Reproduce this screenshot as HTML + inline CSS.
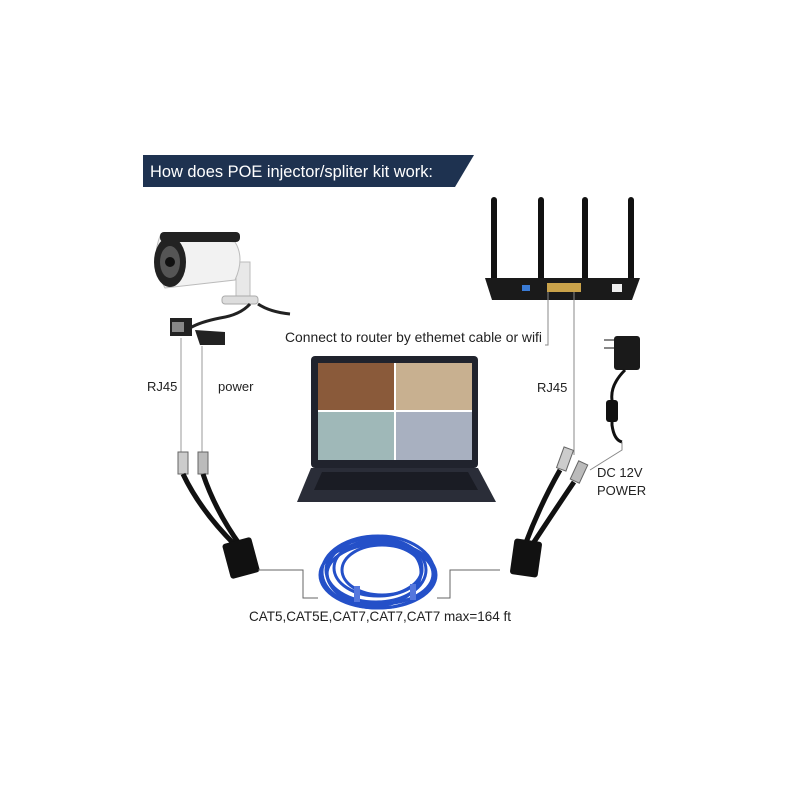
<!DOCTYPE html>
<html><head><meta charset="utf-8"><style>
html,body{margin:0;padding:0;background:#fff;}
svg{display:block}
text{font-family:"Liberation Sans",sans-serif;}
</style></head><body>
<svg width="800" height="800" viewBox="0 0 800 800" xmlns="http://www.w3.org/2000/svg">
<rect width="800" height="800" fill="#fff"/>
<!-- banner -->
<polygon points="143,155 474,155 455,187 143,187" fill="#1e3250"/>
<text x="150" y="177" font-size="16.5" fill="#fff" textLength="283" lengthAdjust="spacingAndGlyphs">How does POE injector/spliter kit work:</text>

<!-- camera -->
<rect x="236" y="262" width="14" height="40" fill="#e8e8e8" stroke="#bbb"/>
<rect x="222" y="296" width="36" height="8" rx="3" fill="#ddd" stroke="#aaa"/>
<path d="M160,236 L235,242 Q245,258 235,280 L165,288 Q150,262 160,236Z" fill="#f2f2f2" stroke="#bbb"/>
<ellipse cx="170" cy="262" rx="16" ry="25" fill="#222"/>
<ellipse cx="170" cy="262" rx="10" ry="16" fill="#555"/>
<circle cx="170" cy="262" r="5" fill="#111"/>
<rect x="160" y="232" width="80" height="10" rx="4" fill="#222"/>
<!-- camera cables -->
<path d="M250,304 Q240,315 220,318 Q200,322 190,328 M258,304 Q270,312 290,314" stroke="#222" stroke-width="3" fill="none"/>
<rect x="170" y="318" width="22" height="18" fill="#222"/>
<rect x="172" y="322" width="12" height="10" fill="#888"/>
<path d="M195,330 L225,332 L225,345 L200,345Z" fill="#222"/>
<!-- left lines -->
<path d="M181,338 V455 M202,346 V455" stroke="#999" stroke-width="1" fill="none"/>
<text x="147" y="391" font-size="13" fill="#222">RJ45</text>
<text x="218" y="391" font-size="13" fill="#222">power</text>
<!-- left splitter -->
<rect x="178" y="452" width="10" height="22" fill="#ccc" stroke="#666"/>
<rect x="198" y="452" width="10" height="22" fill="#bbb" stroke="#666"/>
<path d="M183,474 Q200,510 235,545 M203,474 Q215,510 240,545" stroke="#111" stroke-width="5" fill="none"/>
<rect x="226" y="540" width="30" height="36" rx="3" fill="#111" transform="rotate(-15 241 558)"/>
<path d="M258,570 H303 V598 H318" stroke="#666" stroke-width="1" fill="none"/>

<!-- router -->
<g stroke="#111" stroke-width="6" stroke-linecap="round">
<line x1="494" y1="200" x2="494" y2="282"/>
<line x1="541" y1="200" x2="541" y2="280"/>
<line x1="585" y1="200" x2="585" y2="280"/>
<line x1="631" y1="200" x2="631" y2="282"/>
</g>
<polygon points="485,278 640,278 632,300 492,300" fill="#1a1a1a"/>
<rect x="547" y="283" width="34" height="9" fill="#c9a24a"/>
<rect x="522" y="285" width="8" height="6" fill="#3a7bd5"/>
<rect x="612" y="284" width="10" height="8" fill="#eee"/>
<path d="M548,292 V345 H545 M574,292 V455" stroke="#888" stroke-width="1" fill="none"/>
<text x="285" y="342" font-size="14" fill="#222" textLength="257" lengthAdjust="spacingAndGlyphs">Connect to router by ethemet cable or wifi</text>
<text x="537" y="392" font-size="13" fill="#222">RJ45</text>

<!-- laptop -->
<rect x="311" y="356" width="167" height="112" rx="4" fill="#20232d"/>
<rect x="318" y="363" width="154" height="97" fill="#7a6048"/>
<rect x="318" y="363" width="77" height="48" fill="#8a5a3a"/>
<rect x="395" y="363" width="77" height="48" fill="#c8b090"/>
<rect x="318" y="411" width="77" height="49" fill="#9fb8b8"/>
<rect x="395" y="411" width="77" height="49" fill="#a8b0c0"/>
<line x1="395" y1="363" x2="395" y2="460" stroke="#fff" stroke-width="2"/>
<line x1="318" y1="411" x2="472" y2="411" stroke="#fff" stroke-width="2"/>
<polygon points="311,468 478,468 496,502 297,502" fill="#2a2d38"/>
<polygon points="322,472 468,472 478,490 314,490" fill="#1a1c24"/>

<!-- cable coil -->
<g fill="none" stroke="#2450c8" stroke-width="3">
<ellipse cx="378" cy="572" rx="56" ry="36"/>
<ellipse cx="376" cy="570" rx="50" ry="32"/>
<ellipse cx="380" cy="574" rx="53" ry="30"/>
<ellipse cx="378" cy="568" rx="44" ry="28"/>
<ellipse cx="378" cy="575" rx="58" ry="33"/>
<ellipse cx="374" cy="572" rx="47" ry="34"/>
<ellipse cx="382" cy="570" rx="40" ry="25"/>
</g>
<rect x="354" y="586" width="6" height="16" fill="#5577dd"/>
<rect x="410" y="584" width="6" height="16" fill="#5577dd"/>
<path d="M500,570 H450 V598 H437" stroke="#666" stroke-width="1" fill="none"/>
<text x="249" y="621" font-size="14" fill="#222" textLength="262" lengthAdjust="spacingAndGlyphs">CAT5,CAT5E,CAT7,CAT7,CAT7 max=164 ft</text>

<!-- right splitter -->
<rect x="560" y="448" width="10" height="22" fill="#ccc" stroke="#666" transform="rotate(20 565 459)"/>
<rect x="574" y="462" width="10" height="20" fill="#bbb" stroke="#666" transform="rotate(25 579 472)"/>
<path d="M560,470 Q540,505 525,545 M574,482 Q555,510 532,545" stroke="#111" stroke-width="5" fill="none"/>
<rect x="512" y="540" width="28" height="36" rx="3" fill="#111" transform="rotate(8 526 558)"/>

<!-- power adapter -->
<rect x="614" y="336" width="26" height="34" rx="3" fill="#1a1a1a"/>
<path d="M604,340 H614 M604,348 H614" stroke="#888" stroke-width="2"/>
<path d="M625,370 Q610,385 612,400 L612,425 Q614,440 622,442" stroke="#111" stroke-width="3" fill="none"/>
<rect x="606" y="400" width="12" height="22" rx="3" fill="#111"/>
<path d="M622,442 V450 L590,470" stroke="#888" stroke-width="1" fill="none"/>
<text x="597" y="477" font-size="13" fill="#222">DC 12V</text>
<text x="597" y="495" font-size="13" fill="#222">POWER</text>
</svg>
</body></html>
